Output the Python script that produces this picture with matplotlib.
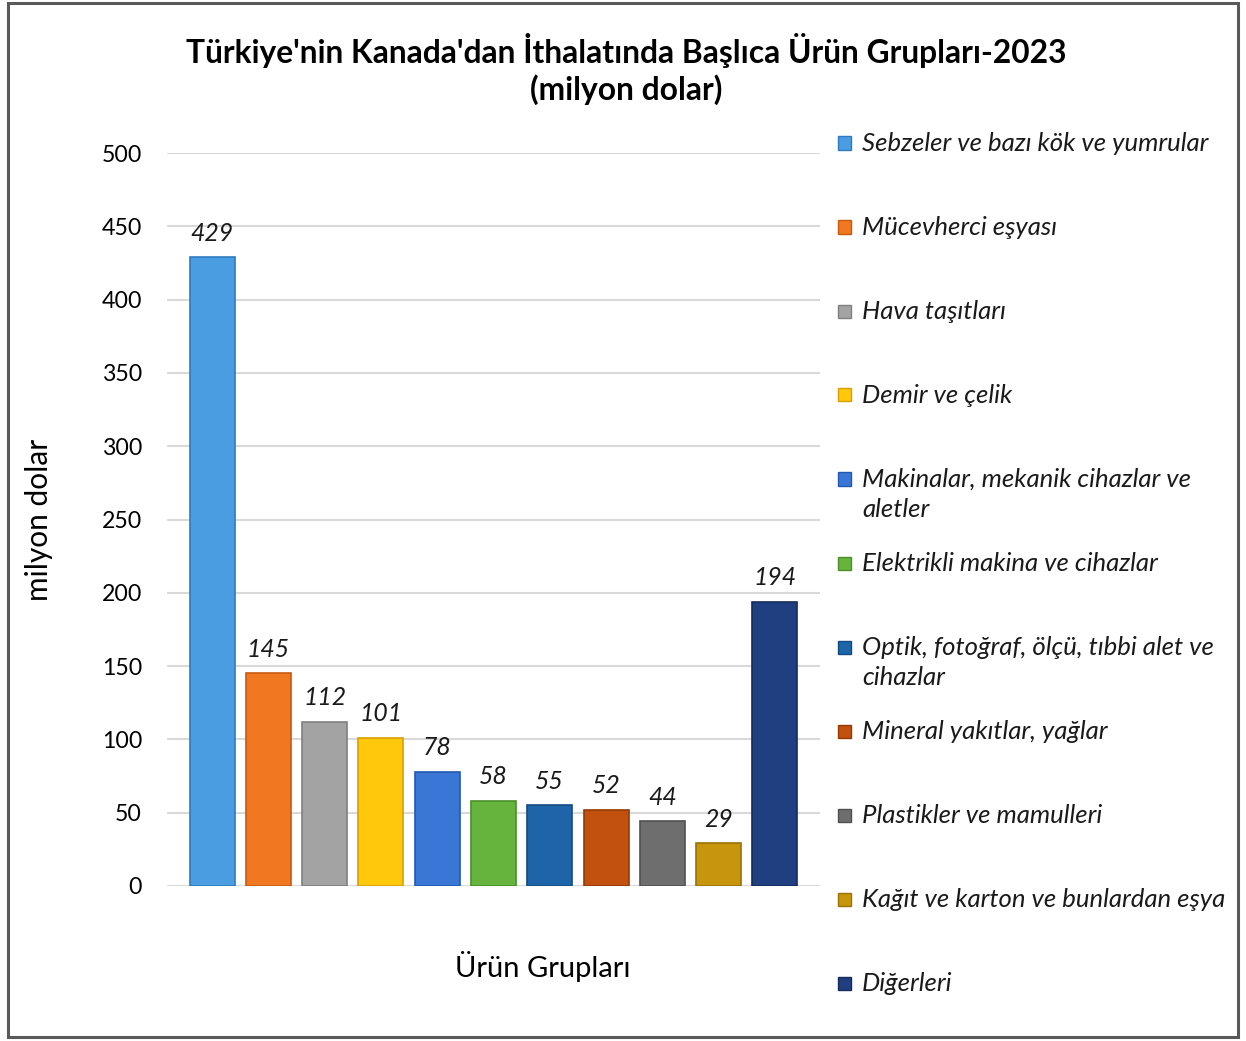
import matplotlib
matplotlib.use("Agg")
import matplotlib.pyplot as plt
from matplotlib.patches import Rectangle

plt.rcParams['font.family'] = ['Lato', 'DejaVu Sans']

categories = [
    "Sebzeler ve bazı kök ve yumrular",
    "Mücevherci eşyası",
    "Hava taşıtları",
    "Demir ve çelik",
    "Makinalar, mekanik cihazlar ve\naletler",
    "Elektrikli makina ve cihazlar",
    "Optik, fotoğraf, ölçü, tıbbi alet ve\ncihazlar",
    "Mineral yakıtlar, yağlar",
    "Plastikler ve mamulleri",
    "Kağıt ve karton ve bunlardan eşya",
    "Diğerleri",
]
values = [429, 145, 112, 101, 78, 58, 55, 52, 44, 29, 194]
colors = ["#4A9DE0", "#F07820", "#A3A3A3", "#FFC80A", "#3A76D6", "#66B43E",
          "#1E64A8", "#C2500E", "#6E6E6E", "#C8960C", "#1F3F80"]
edge_colors = ["#2F7BBF", "#C85A10", "#7F7F7F", "#D9A000", "#2458B0", "#4A8F2A",
               "#154A82", "#943A08", "#505050", "#9A7206", "#142C5C"]
yticks = [0, 50, 100, 150, 200, 250, 300, 350, 400, 450, 500]

W, H = 1246, 1041
fig = plt.figure(figsize=(W / 100, H / 100), dpi=100)

# outer border
fig.patches.append(Rectangle((8 / W, 4 / H), (1238 - 8) / W, (1038 - 4) / H,
                             transform=fig.transFigure, fill=False,
                             edgecolor="#595959", linewidth=2.2))

ax = fig.add_axes([167 / W, 1 - 886 / H, (820 - 167) / W, (886 - 153) / H])
x = list(range(len(values)))
ax.bar(x, values, width=0.8, color=colors, edgecolor=edge_colors, linewidth=1.2, zorder=3)
ax.set_xlim(-0.8, len(values) - 0.2)
ax.set_ylim(0, 500)
ax.set_yticks(yticks)
ax.set_xticks([])
ax.tick_params(axis='y', length=0, pad=18, labelsize=16.7)
ax.grid(axis='y', color="#D9D9D9", linewidth=1.5, zorder=0)
for s in ax.spines.values():
    s.set_visible(False)

for xi, v in zip(x, values):
    ax.annotate(f"{v}", (xi, v), xytext=(0, 9), textcoords="offset points",
                ha="center", va="bottom", fontsize=17.8, fontstyle="italic", color="#1a1a1a")

ax.set_ylabel("milyon dolar", fontsize=21.5)
ax.yaxis.set_label_coords(-0.175, 0.5)
fig.text(543 / W, 1 - 966 / H, "Ürün Grupları", ha="center", va="center", fontsize=21)

fig.text(626 / W, 1 - 50 / H, "Türkiye'nin Kanada'dan İthalatında Başlıca Ürün Grupları-2023",
         ha="center", va="center", fontsize=22.9, fontweight="bold")
fig.text(626 / W, 1 - 90 / H, "(milyon dolar)", ha="center", va="center",
         fontsize=22.9, fontweight="bold")

# legend
y0 = 143
step = 84
sq = 13
for i, (lab, c, ec) in enumerate(zip(categories, colors, edge_colors)):
    yc = y0 + step * i
    fig.patches.append(Rectangle((838 / W, 1 - (yc + sq / 2) / H), sq / W, sq / H,
                                 transform=fig.transFigure, facecolor=c,
                                 edgecolor=ec, linewidth=1))
    fig.text(862 / W, 1 - (yc - 11) / H, lab, ha="left", va="top", fontsize=18.5,
             fontstyle="italic", color="#1a1a1a", linespacing=1.38)

fig.savefig("out.png", dpi=100)
